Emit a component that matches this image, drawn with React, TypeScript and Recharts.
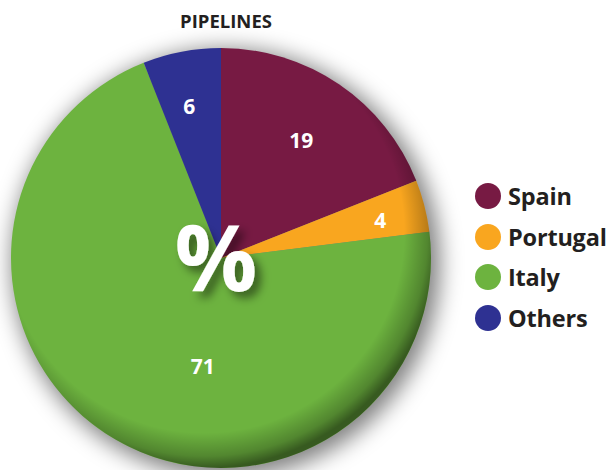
import React from 'react'
import { PieChart, Pie, Cell, Label } from 'recharts'

const countries = ['Spain', 'Portugal', 'Italy', 'Others']
const shares = [19, 4, 71, 6]
const colors = ['#771a43', '#f9a61f', '#6db33f', '#2e3192']

const data = countries.map((name, i) => ({ name, value: shares[i] }))
const whole = [{ name: 'all', value: shares.reduce((a, b) => a + b, 0) }]

const CX = 221
const CY = 258
const R = 210
const RAD = Math.PI / 180

// label placement tweaks per slice (radius ratio, angle shift)
const labelTweak = [
  { r: 0.68, da: 0 },
  { r: 0.78, da: -1 },
  { r: 0.52, da: 21 },
  { r: 0.74, da: 1 },
]

function SliceLabel(props: any) {
  const { midAngle, index, value, cx, cy, outerRadius } = props
  const t = labelTweak[index]
  const a = (midAngle + t.da) * RAD
  const x = cx + outerRadius * t.r * Math.cos(a)
  const y = cy - outerRadius * t.r * Math.sin(a)
  return (
    <text
      x={x}
      y={y}
      fill="#fff"
      fontSize={21}
      fontWeight={700}
      fontFamily="'Open Sans', sans-serif"
      textAnchor="middle"
      dominantBaseline="central"
    >
      {value}
    </text>
  )
}

function LegendBox() {
  return (
    <div style={{ position: 'absolute', left: 475, top: 176, fontFamily: "'Open Sans', sans-serif" }}>
      {countries.map((name, i) => (
        <div key={name} style={{ display: 'flex', alignItems: 'center', height: 40.5 }}>
          <span
            style={{
              width: 26,
              height: 26,
              borderRadius: 13,
              background: colors[i],
              display: 'inline-block',
              marginRight: 7,
            }}
          />
          <span style={{ fontSize: 23.5, fontWeight: 700, color: '#231f20', letterSpacing: -0.2 }}>
            {name}
          </span>
        </div>
      ))}
    </div>
  )
}

export default function App() {
  return (
    <div style={{ position: 'absolute', left: 0, top: 0, width: 612, height: 470, background: '#fff' }}>
      <PieChart width={612} height={470} margin={{ top: 0, right: 0, bottom: 0, left: 0 }}>
        <defs>
          <filter id="blur" x="-20%" y="-20%" width="140%" height="140%">
            <feGaussianBlur stdDeviation="11" />
          </filter>
          <radialGradient id="edge" cx="46%" cy="44%" r="56%">
            <stop offset="0.85" stopColor="#000" stopOpacity="0" />
            <stop offset="0.95" stopColor="#000" stopOpacity="0.25" />
            <stop offset="1" stopColor="#000" stopOpacity="0.5" />
          </radialGradient>
          <filter id="txtShadow" x="-30%" y="-30%" width="160%" height="160%">
            <feDropShadow dx="6" dy="6" stdDeviation="5" floodColor="#000" floodOpacity="0.5" />
          </filter>
        </defs>
        <Pie
          data={whole}
          dataKey="value"
          cx={CX + 5}
          cy={CY + 5}
          outerRadius={R + 4}
          startAngle={90}
          endAngle={-270}
          fill="#000"
          fillOpacity={0.5}
          stroke="none"
          filter="url(#blur)"
          isAnimationActive={false}
          legendType="none"
        />
        <Pie
          data={data}
          dataKey="value"
          cx={CX}
          cy={CY}
          outerRadius={R}
          startAngle={90}
          endAngle={-270}
          stroke="none"
          label={SliceLabel}
          labelLine={false}
          isAnimationActive={false}
        >
          {data.map((d, i) => (
            <Cell key={d.name} fill={colors[i]} />
          ))}
        </Pie>
        <Pie
          data={whole}
          dataKey="value"
          cx={CX}
          cy={CY}
          outerRadius={R}
          startAngle={90}
          endAngle={-270}
          fill="url(#edge)"
          stroke="none"
          isAnimationActive={false}
          legendType="none"
        >
          <Label
            position="center"
            content={(p: any) => {
              const vb = p.viewBox || {}
              const x = (vb.cx ?? CX) - 5
              const y = (vb.cy ?? CY) + 33
              return (
                <text
                  x={x}
                  y={y}
                  fill="#fff"
                  fontSize={92}
                  fontWeight={700}
                  fontFamily="'Open Sans', sans-serif"
                  textAnchor="middle"
                  filter="url(#txtShadow)"
                >
                  %
                </text>
              )
            }}
          />
        </Pie>
      </PieChart>
      <div
        style={{
          position: 'absolute',
          left: 0,
          width: 452,
          top: 8,
          textAlign: 'center',
          fontFamily: "'Open Sans', sans-serif",
          fontWeight: 700,
          fontSize: 18.5,
          color: '#231f20',
        }}
      >
        PIPELINES
      </div>
      <LegendBox />
    </div>
  )
}
